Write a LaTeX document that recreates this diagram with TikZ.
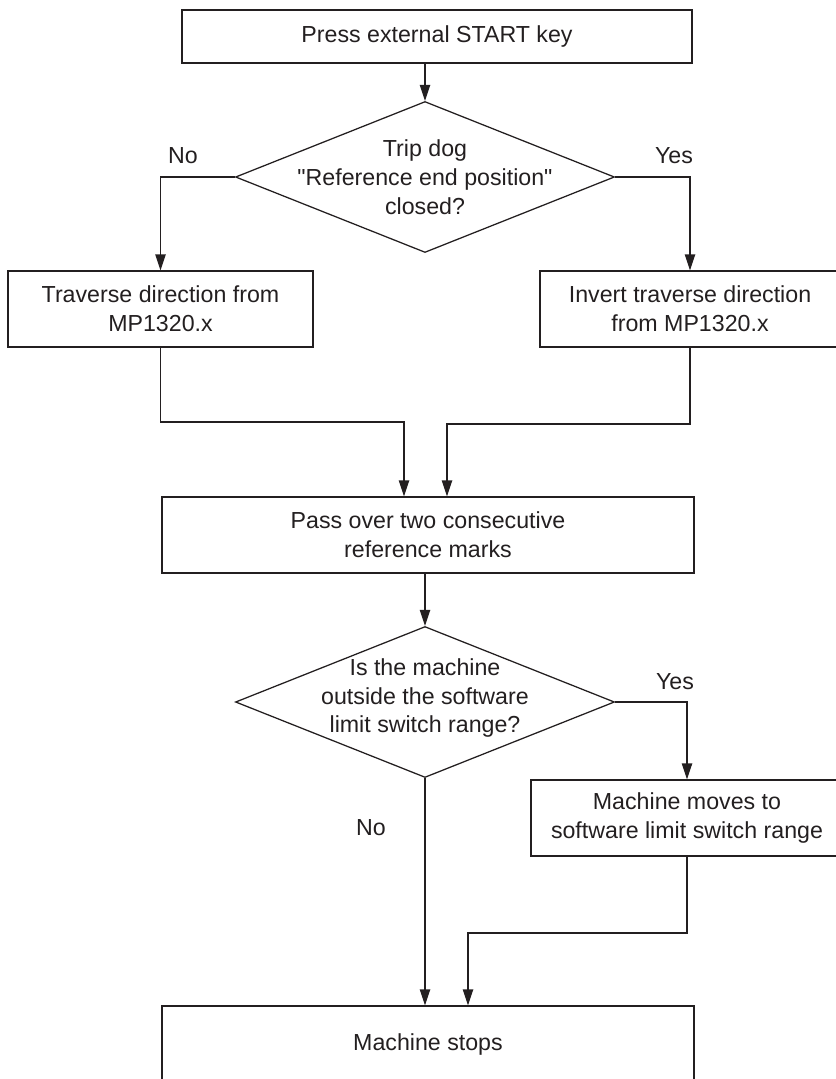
\documentclass[tikz,border=0pt]{standalone}
\usepackage{fontspec}
\setmainfont{Liberation Sans}[Ligatures=TeXOff]
\usepackage{tikz}
\usetikzlibrary{shapes.geometric,arrows.meta,positioning,calc}
\definecolor{flowline}{RGB}{35,31,32}
\tikzset{
    pbox/.style={draw=flowline, line width=0.9pt, minimum width=#1,
                 minimum height=1.9cm, align=center, inner sep=0pt,
                 font=\fontsize{16.5}{20.6}\selectfont, text=flowline},
    dbox/.style={draw=flowline, line width=0.9pt, diamond, inner sep=0pt,
                 minimum width=9.475cm, minimum height=3.775cm},
    dtext/.style={align=center, inner sep=0pt,
                  font=\fontsize{16.5}{20.6}\selectfont, text=flowline},
    lbl/.style={font=\fontsize{16.5}{20.6}\selectfont, text=flowline},
}

\begin{document}
\begin{tikzpicture}[
    arr/.style={-{Triangle[length=4mm,width=2.6mm]}, line width=0.9pt, flowline}
]
    \useasboundingbox (0,0) rectangle (20.9,-26.975);

    \node[pbox=12.75cm, minimum height=1.325cm] (start) at (10.925,-0.9125) {Press external START key};
    \node[dbox] (trip) at (10.625,-4.425) {};
    \node[dtext] (triptxt) at (trip.center) {Trip dog\\"Reference end position"\\closed?};
    \node[pbox=7.625cm] (keepdir) at (4.0125,-7.725) {Traverse direction from\\MP1320.x};
    \node[pbox=7.5cm] (invdir) at (17.25,-7.725) {Invert traverse direction\\from MP1320.x};
    \node[pbox=13.3cm] (refmarks) at (10.7,-13.375) {Pass over two consecutive\\reference marks};
    \node[dbox] (outside) at (10.625,-17.55) {};
    \node[dtext] (outsidetxt) at ([yshift=0.1cm]outside.center) {Is the machine\\outside the software\\limit switch range?};
    \node[pbox=7.8cm] (moveback) at (17.175,-20.45) {Machine moves to\\software limit switch range};
    \node[pbox=13.3cm] (stop) at (10.7,-26.1) {Machine stops};

    \node[lbl] (no1) at (4.575,-3.9) {No};
    \node[lbl] (yes1) at (16.85,-3.9) {Yes};
    \node[lbl] (yes2) at (16.875,-17.05) {Yes};
    \node[lbl] (no2) at (9.275,-20.7) {No};

    \coordinate (j1) at (10.1,-10.55);
    \coordinate (j2) at (11.175,-10.6);
    \coordinate (j3) at (11.7,-23.325);

    \draw[arr] (trip.north |- start.south) -- (trip.north);
    \draw[arr] (trip.west) -| (keepdir.north);
    \draw[arr] (trip.east) -| (invdir.north);
    \draw[arr] (keepdir.south) |- (j1) -- (j1 |- refmarks.north);
    \draw[arr] (invdir.south) |- (j2) -- (j2 |- refmarks.north);
    \draw[arr] (outside.north |- refmarks.south) -- (outside.north);
    \draw[arr] (outside.east) -| (moveback.north);
    \draw[arr] (outside.south) -- (outside.south |- stop.north);
    \draw[arr] (moveback.south) |- (j3) -- (j3 |- stop.north);
\end{tikzpicture}
\end{document}
